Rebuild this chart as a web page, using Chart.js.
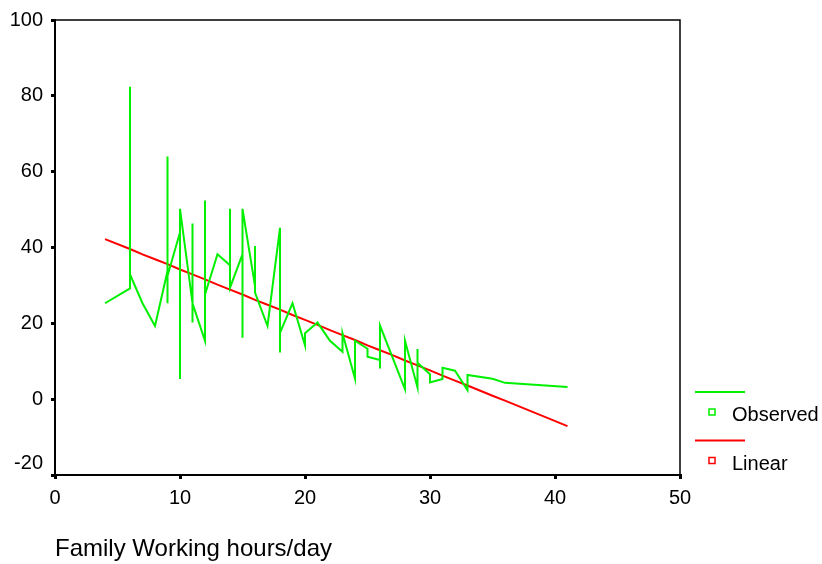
<!DOCTYPE html>
<html>
<head>
<meta charset="utf-8">
<script src="https://cdn.jsdelivr.net/npm/chart.js@4"></script>
<style>
    html, body { margin: 0; padding: 0; background: #fff; }
    #wrap { width: 822px; height: 564px; }
</style>
</head>
<body>
<div id="wrap"><canvas id="myChart" width="822" height="564"></canvas></div>
<script>
// observed values, in plotting order (several per x give the vertical strokes)
const obsX = [4, 6, 6, 6, 7, 8, 9, 9, 9, 9, 10, 10, 10, 11, 11, 11, 11, 12, 12, 12, 13,
    14, 14, 14, 15, 15, 15, 16, 16, 16, 17, 18, 18, 18, 19, 20, 20, 21, 22, 23, 23,
    24, 24, 25, 25, 26, 26, 26, 27, 28, 28, 29, 29, 29, 30, 30, 31, 31, 32, 33, 33,
    35, 36, 41];
const obsY = [25.3, 29.2, 82.4, 32.9, 25.3, 19.3, 33.8, 64, 25.3, 32.5, 44, 5.3, 50.2,
    25.3, 46.3, 20.2, 25.3, 15.4, 52.4, 27.6, 38.2, 35.3, 50.2, 29.4, 38.2, 16.2, 50.2,
    29.8, 40.4, 28.1, 19.3, 45.2, 12.3, 17.5, 25.3, 14.2, 17.4, 20.2, 15.4, 12.5, 17.4,
    5.4, 15.4, 13.3, 11.2, 10.3, 8.1, 19.4, 11, 2.6, 15.4, 3.1, 13.2, 9.6, 6.6, 4.4,
    5.3, 8.3, 7.5, 2.4, 6.4, 5.4, 4.3, 3.2];

// linear fit line
const fitX = [4, 6, 7, 8, 9, 10, 11, 12, 13, 14, 15, 16, 17, 18, 19, 20, 21, 22, 23,
    24, 25, 26, 27, 28, 29, 30, 31, 32, 33, 35, 36, 41];
const fitY = [42.2, 39.6, 38.2, 36.9, 35.6, 34.2, 32.9, 31.6, 30.2, 28.9, 27.6, 26.2,
    24.9, 23.6, 22.2, 20.9, 19.6, 18.2, 16.9, 15.6, 14.2, 12.9, 11.6, 10.2, 8.9, 7.6,
    6.2, 4.9, 3.6, 0.9, -0.4, -7.1];

const xTicks = [0, 10, 20, 30, 40, 50];
const yTicks = [-20, 0, 20, 40, 60, 80, 100];
const seriesNames = ['Observed', 'Linear'];
const seriesColors = ['#00f000', '#ff0000'];

const FONT = 'Arial, "Liberation Sans", sans-serif';

// frame on top/right + SPSS-like legend at the right
const spssExtras = {
    id: 'spssExtras',
    afterDraw(chart) {
        const { ctx, chartArea: a } = chart;
        ctx.save();
        ctx.strokeStyle = '#000';
        ctx.lineWidth = 1.5;
        ctx.beginPath();
        ctx.moveTo(a.left, a.top);
        ctx.lineTo(a.right, a.top);
        ctx.lineTo(a.right, a.bottom);
        ctx.stroke();

        ctx.font = '20px ' + FONT;
        ctx.textBaseline = 'middle';
        ctx.fillStyle = '#000';
        seriesNames.forEach((name, i) => {
            const y0 = 392 + i * 48.5;
            ctx.strokeStyle = seriesColors[i];
            ctx.lineWidth = 2;
            ctx.beginPath();
            ctx.moveTo(695, y0);
            ctx.lineTo(745, y0);
            ctx.stroke();
            ctx.lineWidth = 1.5;
            ctx.strokeRect(709, y0 + 17, 6, 6);
            ctx.fillText(name, 732, y0 + 23.5);
        });
        ctx.restore();
    }
};

const ctx = document.getElementById('myChart').getContext('2d');
new Chart(ctx, {
    type: 'scatter',
    data: {
        datasets: [
            {
                label: seriesNames[0],
                data: obsX.map((x, i) => ({ x: x, y: obsY[i] })),
                showLine: true,
                borderColor: seriesColors[0],
                borderWidth: 2,
                pointRadius: 0,
                tension: 0
            },
            {
                label: seriesNames[1],
                data: fitX.map((x, i) => ({ x: x, y: fitY[i] })),
                showLine: true,
                borderColor: seriesColors[1],
                borderWidth: 2,
                pointRadius: 0,
                tension: 0
            }
        ]
    },
    options: {
        responsive: false,
        animation: false,
        layout: { padding: { top: 20, right: 142, left: 0, bottom: 0 } },
        plugins: {
            legend: { display: false },
            tooltip: { enabled: false }
        },
        scales: {
            x: {
                type: 'linear',
                min: 0,
                max: 50,
                afterBuildTicks: (s) => { s.ticks = xTicks.map(v => ({ value: v })); },
                afterFit: (s) => { s.height = 89; },
                ticks: { color: '#000', font: { size: 20, family: FONT }, padding: 7, maxRotation: 0 },
                grid: { drawOnChartArea: false, drawTicks: true, tickLength: 4, lineWidth: 3, color: '#000' },
                border: { display: true, color: '#000', width: 2 },
                title: {
                    display: true,
                    text: 'Family Working hours/day',
                    align: 'start',
                    color: '#000',
                    font: { size: 24, family: FONT },
                    padding: { top: 0, bottom: 0 }
                }
            },
            y: {
                min: -20,
                max: 100,
                afterBuildTicks: (s) => { s.ticks = yTicks.map(v => ({ value: v })); },
                afterFit: (s) => { s.width = 55; },
                ticks: {
                    color: '#000',
                    font: { size: 20, family: FONT },
                    padding: 8,
                    // lowest label sits a little above its tick, as in the original
                    callback: (v) => (v === -20 ? ['-20', ''] : String(v))
                },
                grid: { drawOnChartArea: false, drawTicks: true, tickLength: 4, lineWidth: 3, color: '#000' },
                border: { display: true, color: '#000', width: 2 }
            }
        }
    },
    plugins: [spssExtras]
});
</script>
</body>
</html>
